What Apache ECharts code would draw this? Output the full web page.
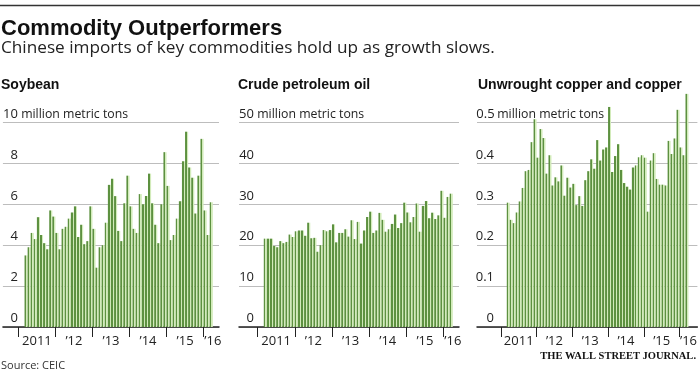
<!DOCTYPE html>
<html>
<head>
<meta charset="utf-8">
<script src="https://cdn.jsdelivr.net/npm/echarts@6/dist/echarts.min.js"></script>
<style>
html,body{margin:0;padding:0;background:#fff;}
#chart{width:700px;height:373px;}
</style>
</head>
<body>
<div id="chart"></div>
<script>
// ---- DATA (monthly, Mar 2011 – Mar 2016) ----
const firstYear = 2011;
const firstMonth = 3;          // data starts March 2011
const yearLabels = ['2011', '\u201912', '\u201913', '\u201914', '\u201915', '\u201916'];
const panelTitles = ['Soybean', 'Crude petroleum oil', 'Unwrought copper and copper'];
const unitLabels = ['million metric tons', 'million metric tons', 'million metric tons'];

const soybean = [3.5,3.9,4.6,4.3,5.37,4.5,4.1,3.8,5.7,5.4,
  4.6,3.8,4.8,4.9,5.3,5.6,5.9,4.4,5.0,4.05,
  4.2,5.9,4.8,2.9,3.9,4.0,5.1,6.95,7.25,6.4,
  4.7,4.2,6.05,7.4,5.9,4.8,4.6,6.5,6.0,6.4,
  7.5,6.05,5.0,4.1,6.0,8.55,6.9,4.25,4.5,5.3,
  6.15,8.1,9.55,7.8,7.3,5.55,7.4,9.2,5.7,4.5,6.1];
const crude = [21.6,21.6,21.6,19.8,19.5,21.0,20.5,20.8,22.6,22.0,
  23.4,23.6,23.6,22.3,25.5,21.7,21.8,18.4,20.0,23.7,
  23.4,23.7,25.1,20.7,23.0,23.0,23.9,22.1,26.1,21.5,
  25.7,20.4,23.6,26.9,28.2,23.0,23.6,27.9,26.2,23.3,
  23.9,25.2,27.5,24.2,25.4,30.4,28.0,25.6,26.9,30.2,
  23.3,29.6,30.8,26.6,27.95,26.4,27.3,33.3,26.7,31.8,32.6];
const copper = [0.304,0.262,0.254,0.280,0.307,0.340,0.381,0.384,0.452,0.508,
  0.414,0.484,0.462,0.375,0.420,0.346,0.366,0.356,0.395,0.321,
  0.365,0.341,0.350,0.298,0.320,0.296,0.359,0.381,0.410,0.387,
  0.457,0.407,0.434,0.439,0.538,0.379,0.418,0.447,0.384,0.352,
  0.343,0.336,0.390,0.395,0.415,0.420,0.414,0.282,0.407,0.425,
  0.362,0.348,0.348,0.346,0.455,0.423,0.461,0.531,0.439,0.420,0.570];
const yMax = [10, 50, 0.5];
const yStep = [2, 10, 0.1];

// ---- LAYOUT ----
const panels = [
  {left: 0,   width: 219, lead: 5, trail: 2, labelBox: 15},
  {left: 239, width: 220, lead: 6, trail: 2, labelBox: 15},
  {left: 477, width: 221, lead: 8, trail: 3, labelBox: 17}
];
const seriesData = [soybean, crude, copper];
const DARK = '#5d9140', LIGHT = '#d2ebba', INK = '#222';
const FONT = '"Open Sans", sans-serif';

function buildCats(p, n) {
  const cats = [];
  const total = p.lead + (firstMonth - 1) + n + p.trail;
  for (let i = 0; i < total; i++) {
    const m = i - p.lead;                 // months after Jan 2011
    const y = firstYear + Math.floor(m / 12);
    const mm = ((m % 12) + 12) % 12;
    cats.push(y + '-' + (mm + 1));
  }
  return cats;
}

const grids = [], xAxes = [], yAxes = [], series = [];
panels.forEach((p, k) => {
  const vals = seriesData[k];
  const cats = buildCats(p, vals.length);
  const nSlots = cats.length;
  const data = cats.map((c, i) => {
    const j = i - p.lead - (firstMonth - 1);
    return (j >= 0 && j < vals.length) ? vals[j] : null;
  });
  // year boundaries (start of each January) and label anchors, in month-slot units
  const tickVals = yearLabels.map((_, yi) => p.lead + 12 * yi);
  const labelVals = yearLabels.map((_, yi) => p.lead + 12 * yi + (yi < yearLabels.length - 1 ? 6 : 3));
  grids.push({left: p.left, width: p.width, top: 122.5, bottom: 46, containLabel: false});
  // category axis carrying the bars
  xAxes.push({
    type: 'category', gridIndex: k, data: cats, boundaryGap: true,
    axisLine: {show: true, lineStyle: {color: INK, width: 1.5}},
    axisTick: {show: false}, axisLabel: {show: false}, splitLine: {show: false}
  });
  // month-slot axis carrying the year ticks and year labels
  xAxes.push({
    type: 'value', gridIndex: k, min: 0, max: nSlots, position: 'bottom',
    axisLine: {show: false}, splitLine: {show: false},
    axisTick: {show: true, length: 10, customValues: tickVals, lineStyle: {color: INK, width: 1}},
    axisLabel: {
      show: true, margin: 8, fontFamily: FONT, fontSize: 13, color: INK,
      customValues: labelVals,
      formatter: v => yearLabels[Math.floor((v - p.lead) / 12)]
    }
  });
  yAxes.push({
    type: 'value', gridIndex: k, min: 0, max: yMax[k], interval: yStep[k],
    axisLine: {show: false}, axisTick: {show: false},
    splitLine: {show: true, lineStyle: {color: '#bdbdbd', width: 1}},
    axisLabel: {
      inside: true, margin: 0, align: 'left', verticalAlign: 'bottom', padding: [0, 0, 2, 0],
      fontFamily: FONT, fontSize: 13, color: INK,
      formatter: v => {
        const s = String(Math.round(v * 10) / 10);
        return Math.abs(v - yMax[k]) < 1e-9 ? '{n|' + s + '}{u| ' + unitLabels[k] + '}' : '{n|' + s + '}';
      },
      rich: {
        n: {width: p.labelBox, align: 'right', fontFamily: FONT, fontSize: 13, color: INK},
        u: {fontFamily: FONT, fontSize: 12.3, color: INK}
      }
    }
  });
  series.push({
    type: 'bar', xAxisIndex: 2 * k, yAxisIndex: k, data: data, clip: false,
    barCategoryGap: '0%', animation: false,
    itemStyle: {color: new echarts.graphic.LinearGradient(0, 0, 1, 0, [
      {offset: 0, color: DARK}, {offset: 0.55, color: DARK},
      {offset: 0.55, color: LIGHT}, {offset: 1, color: LIGHT}])}
  });
});

const graphic = [
  {type: 'line', shape: {x1: 0, y1: 5.5, x2: 700, y2: 5.5}, style: {stroke: '#333', lineWidth: 1.5}},
  {type: 'text', x: 1, y: 28.5, style: {text: 'Commodity Outperformers', font: 'bold 22px "Liberation Sans", Arial, sans-serif', fill: '#111', textVerticalAlign: 'middle'}},
  {type: 'text', x: 1, y: 48.5, style: {text: 'Chinese imports of key commodities hold up as growth slows.', font: '17.2px "Open Sans", sans-serif', fill: '#222', textVerticalAlign: 'middle'}},
  {type: 'text', x: 1, y: 85, style: {text: panelTitles[0], font: 'bold 14px "Liberation Sans", Arial, sans-serif', fill: '#111', textVerticalAlign: 'middle'}},
  {type: 'text', x: 238, y: 85, style: {text: panelTitles[1], font: 'bold 14px "Liberation Sans", Arial, sans-serif', fill: '#111', textVerticalAlign: 'middle'}},
  {type: 'text', x: 478, y: 85, style: {text: panelTitles[2], font: 'bold 14px "Liberation Sans", Arial, sans-serif', fill: '#111', textVerticalAlign: 'middle'}},
  {type: 'text', x: 1, y: 366, style: {text: 'Source: CEIC', font: '11px "Open Sans", sans-serif', fill: '#333', textVerticalAlign: 'middle'}},
  {type: 'text', x: 696, y: 356, style: {text: 'THE WALL STREET JOURNAL.', font: 'bold 10.5px "Liberation Serif", "Times New Roman", serif', fill: '#111', textAlign: 'right', textVerticalAlign: 'middle'}}
];

const chart = echarts.init(document.getElementById('chart'), null, {renderer: 'canvas'});
chart.setOption({
  animation: false,
  backgroundColor: '#fff',
  grid: grids, xAxis: xAxes, yAxis: yAxes, series: series, graphic: graphic
});
</script>
</body>
</html>
